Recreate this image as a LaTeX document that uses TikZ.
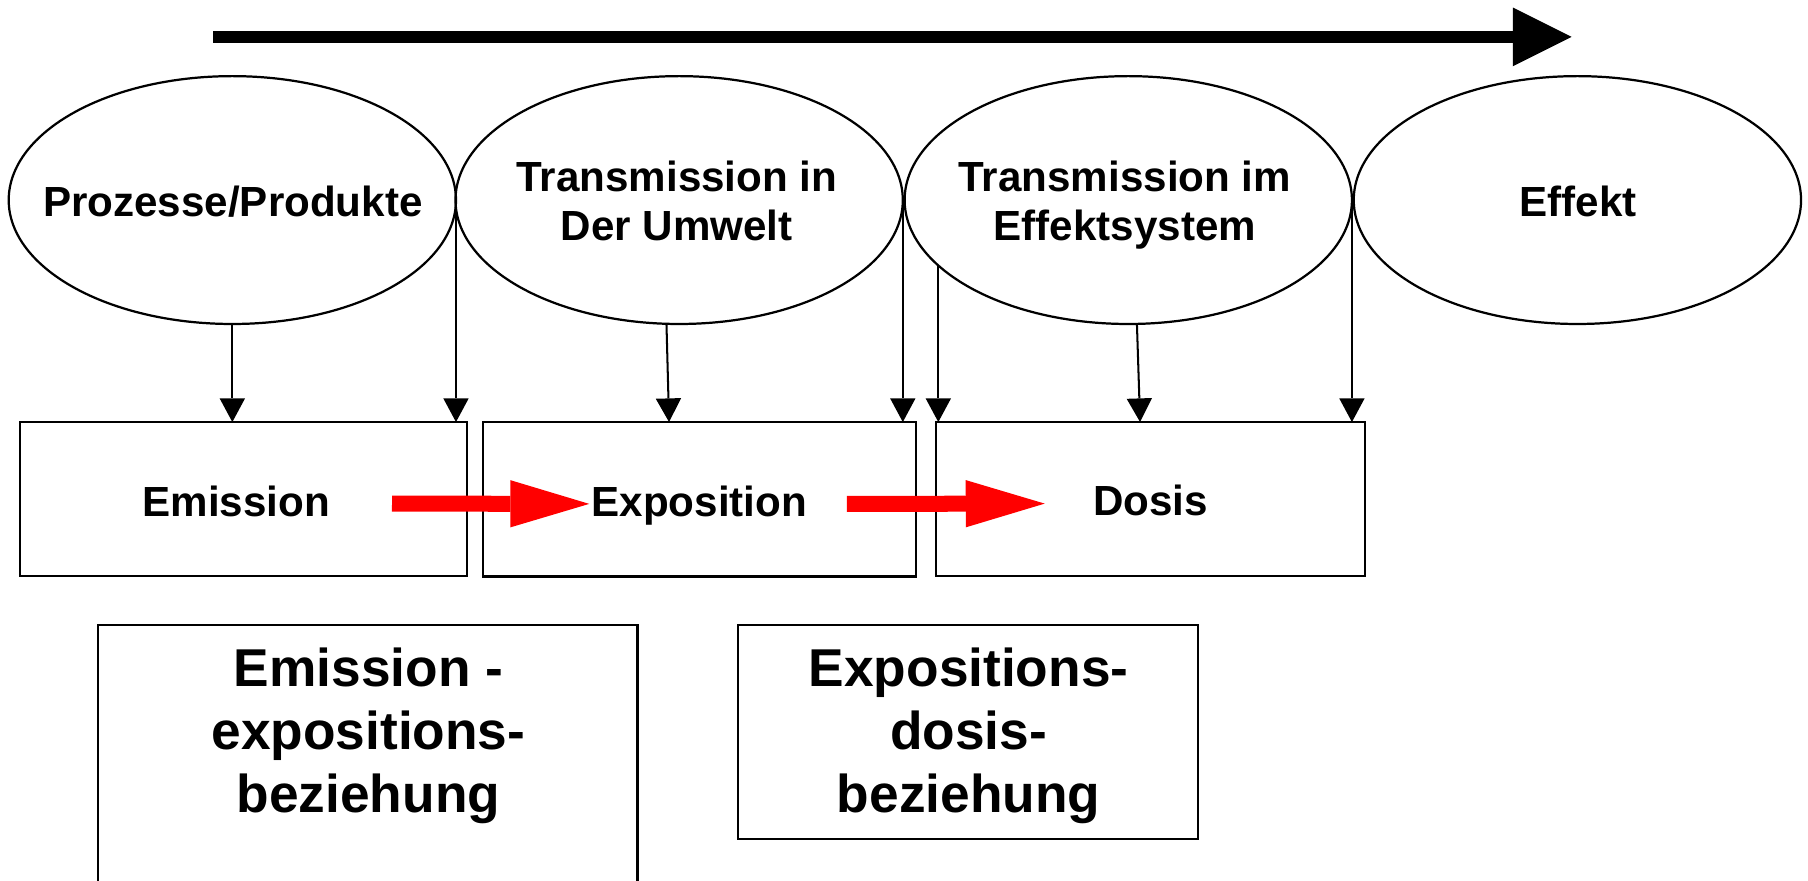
\documentclass[tikz,border=0pt]{standalone}
\usepackage{fontspec}
\setmainfont{Liberation Sans}
\usetikzlibrary{shapes.geometric,arrows.meta,calc}

\begin{document}
\begin{tikzpicture}[x=0.02cm,y=-0.02cm,
  ell/.style={ellipse,draw,line width=1.1pt,minimum width=7.76cm,minimum height=4.3cm,inner sep=0pt,outer sep=0pt},
  stage/.style={rectangle,draw,line width=1.1pt,inner sep=0pt,outer sep=0pt},
  lbl/.style={inner sep=0pt,font=\fontsize{20.8pt}{24.5pt}\selectfont\bfseries,align=center},
  biglbl/.style={inner sep=0pt,font=\fontsize{26.3pt}{31.2pt}\selectfont\bfseries,align=center},
  feed/.style={line width=1pt,-{Triangle[length=0.41cm,width=0.44cm,line width=0pt]}},
  flow/.style={red,line width=7.9pt,-{Triangle[length=1.37cm,width=0.82cm,line width=0pt]}},
  timeline/.style={line width=5.9pt,-{Triangle[length=1.02cm,width=1.02cm,line width=0pt]}}]

\clip (0,0) rectangle (1568,764);

% time axis
\coordinate (ts) at (185,32);
\coordinate (te) at (1363,32);
\draw[timeline] (ts) -- (te);

% stages of the chain (base anchor = baseline of the last line)
\node[ell] (e1) at (201.5,173.5) {};
\node[ell] (e2) at (589,173.5) {};
\node[ell] (e3) at (978.5,173.5) {};
\node[ell] (e4) at (1368,173.5) {};
\node[lbl,anchor=base] (e1t) at (202,188) {Prozesse/Produkte};
\node[lbl,anchor=base] (e2t) at (587,208.7) {Transmission in\\Der Umwelt};
\node[lbl,anchor=base] (e3t) at (975.5,208.7) {Transmission im\\Effektsystem};
\node[lbl,anchor=base] (e4t) at (1368.5,188) {Effekt};

% quantities
\node[stage,minimum width=7.75cm,minimum height=2.67cm] (b1) at (211.25,432.75) {};
\node[stage,minimum width=7.51cm,minimum height=2.68cm] (b2) at (606.75,433) {};
\node[stage,minimum width=7.45cm,minimum height=2.67cm] (b3) at (997.75,432.75) {};
\node[lbl,anchor=base] (b1t) at (205,447.5) {Emission};
\node[lbl,anchor=base] (b2t) at (606.5,447.5) {Exposition};
\node[lbl,anchor=base] (b3t) at (998,447) {Dosis};

% relations
\node[stage,minimum width=9.36cm,minimum height=5.2cm] (l1) at (319,671.7) {};
\node[stage,minimum width=7.98cm,minimum height=3.714cm] (l2) at (839.5,634.55) {};
\node[biglbl,anchor=base] (l1t) at (319.5,705) {Emission -\\expositions-\\beziehung};
\node[biglbl,anchor=base] (l2t) at (840,705) {Expositions-\\dosis-\\beziehung};

% influences of the stages on the quantities
\draw[feed] (e1.south) -- (e1.south |- b1.north);
\draw[feed] (e1.east) -- (e1.east |- b1.north);
\draw[feed] ($(e2.south)+(-11,0)$) -- ($(b2.north)+(-26.5,0)$);
\draw[feed] (e2.east) -- (e2.east |- b2.north);
\draw[feed] (e3.199.6) -- (e3.199.6 |- b3.north);
\draw[feed] ($(e3.south)+(7.5,0)$) -- ($(b3.north)+(-9,0)$);
\draw[feed] (e3.east) -- (e3.east |- b3.north);

% flow between the quantities
\coordinate (r1a) at ($(b1.east)+(-65,4)$);
\coordinate (r1b) at ($(b2.west)+(92,4)$);
\coordinate (r2a) at ($(b2.east)+(-60,4)$);
\coordinate (r2b) at ($(b3.west)+(94.5,4)$);
\draw[flow] (r1a) -- (r1b);
\draw[flow] (r2a) -- (r2b);
\end{tikzpicture}
\end{document}
